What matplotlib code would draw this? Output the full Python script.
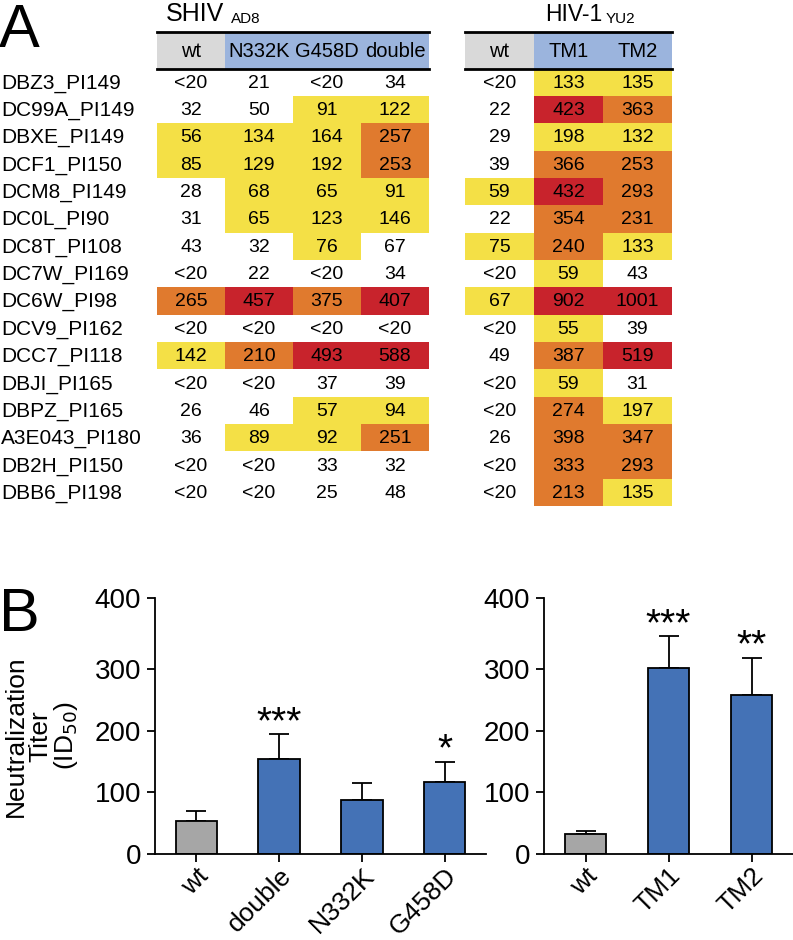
import numpy as np
import matplotlib
matplotlib.use('Agg')
import matplotlib.pyplot as plt
from matplotlib.patches import Rectangle

plt.rcParams['font.family'] = ['Liberation Sans', 'DejaVu Sans']

# Table data (panel A)
samples = ['DBZ3_PI149', 'DC99A_PI149', 'DBXE_PI149', 'DCF1_PI150', 'DCM8_PI149',
           'DC0L_PI90', 'DC8T_PI108', 'DC7W_PI169', 'DC6W_PI98', 'DCV9_PI162',
           'DCC7_PI118', 'DBJI_PI165', 'DBPZ_PI165', 'A3E043_PI180', 'DB2H_PI150',
           'DBB6_PI198']
shiv_cols = ['wt', 'N332K', 'G458D', 'double']
hiv_cols = ['wt', 'TM1', 'TM2']

shiv_vals = [['<20', '21', '<20', '34'], ['32', '50', '91', '122'],
             ['56', '134', '164', '257'], ['85', '129', '192', '253'],
             ['28', '68', '65', '91'], ['31', '65', '123', '146'],
             ['43', '32', '76', '67'], ['<20', '22', '<20', '34'],
             ['265', '457', '375', '407'], ['<20', '<20', '<20', '<20'],
             ['142', '210', '493', '588'], ['<20', '<20', '37', '39'],
             ['26', '46', '57', '94'], ['36', '89', '92', '251'],
             ['<20', '<20', '33', '32'], ['<20', '<20', '25', '48']]
hiv_vals = [['<20', '133', '135'], ['22', '423', '363'], ['29', '198', '132'],
            ['39', '366', '253'], ['59', '432', '293'], ['22', '354', '231'],
            ['75', '240', '133'], ['<20', '59', '43'], ['67', '902', '1001'],
            ['<20', '55', '39'], ['49', '387', '519'], ['<20', '59', '31'],
            ['<20', '274', '197'], ['26', '398', '347'], ['<20', '333', '293'],
            ['<20', '213', '135']]

# shading level: 0 none, 1 yellow, 2 orange, 3 red
shiv_level = [[0, 0, 0, 0], [0, 0, 1, 1], [1, 1, 1, 2], [1, 1, 1, 2], [0, 1, 1, 1],
              [0, 1, 1, 1], [0, 0, 1, 0], [0, 0, 0, 0], [2, 3, 2, 3], [0, 0, 0, 0],
              [1, 2, 3, 3], [0, 0, 0, 0], [0, 0, 1, 1], [0, 1, 1, 2], [0, 0, 0, 0],
              [0, 0, 0, 0]]
hiv_level = [[0, 1, 1], [0, 3, 2], [0, 1, 1], [0, 2, 2], [1, 3, 2], [0, 2, 2],
             [1, 2, 1], [0, 1, 0], [1, 3, 3], [0, 1, 0], [0, 2, 3], [0, 1, 0],
             [0, 2, 1], [0, 2, 2], [0, 2, 2], [0, 2, 1]]

# Bar data (panel B)
shiv_bar_labels = ['wt', 'double', 'N332K', 'G458D']
shiv_means = [54, 154, 87, 117]
shiv_err = [15, 40, 28, 33]
shiv_stars = ['', '***', '', '*']

hiv_bar_labels = ['wt', 'TM1', 'TM2']
hiv_means = [33, 301, 258]
hiv_err = [4, 45, 58]
hiv_stars = ['', '***', '**']

shade = {1: '#f4e046', 2: '#e07a2e', 3: '#c8232c'}
gray_head = '#d9d9d9'
blue_head = '#9bb4dd'
bar_gray = '#a6a6a6'
bar_blue = '#4472b6'

fig = plt.figure(figsize=(7.93, 9.40), dpi=100)

# ---- Panel A: table drawn in pixel space ----
ax_t = fig.add_axes([0, 0, 1, 1])
ax_t.set_xlim(0, 793)
ax_t.set_ylim(940, 0)
ax_t.axis('off')

row_top = 68.5
row_h = 27.35
head_top = 32
fs_val = 14
fs_head = 14.5
fs_row = 15


def draw_table(x0, cw, cols, vals, levels, title, sub, title_x, sub_x, title_fs):
    n = len(cols)
    # header
    for j, c in enumerate(cols):
        ax_t.add_patch(Rectangle((x0 + j * cw, head_top), cw, row_top - head_top,
                                 facecolor=gray_head if j == 0 else blue_head,
                                 edgecolor='none'))
        ax_t.text(x0 + (j + 0.5) * cw, (head_top + row_top) / 2 + 1, c,
                  ha='center', va='center', fontsize=fs_head)
    ax_t.plot([x0, x0 + n * cw], [head_top, head_top], color='black', lw=2)
    ax_t.plot([x0, x0 + n * cw], [row_top, row_top], color='black', lw=2)
    # cells
    for i, row in enumerate(vals):
        y = row_top + i * row_h
        for j, v in enumerate(row):
            lv = levels[i][j]
            if lv:
                ax_t.add_patch(Rectangle((x0 + j * cw, y), cw, row_h,
                                         facecolor=shade[lv], edgecolor='none'))
            ax_t.text(x0 + (j + 0.5) * cw, y + row_h / 2 + 1, v,
                      ha='center', va='center', fontsize=fs_val)
    ax_t.text(title_x, 21, title, ha='left', va='baseline', fontsize=title_fs)
    ax_t.text(sub_x, 23, sub, ha='left', va='baseline', fontsize=11)


for i, s in enumerate(samples):
    ax_t.text(1, row_top + (i + 0.5) * row_h + 1, s, ha='left', va='center',
              fontsize=fs_row)

draw_table(157, 68, shiv_cols, shiv_vals, shiv_level, 'SHIV', 'AD8', 166, 231, 18)
draw_table(465, 69, hiv_cols, hiv_vals, hiv_level, 'HIV-1', 'YU2', 545, 606, 16.5)

ax_t.text(-1, 47, 'A', ha='left', va='baseline', fontsize=44)
ax_t.text(-1, 631, 'B', ha='left', va='baseline', fontsize=44)


# ---- Panel B: bar charts ----
# the reference axis has a longer 300-400 step than the others
k = 71.0 / 61.5


def fwd(y):
    y = np.asarray(y, dtype=float)
    return np.where(y <= 300, y, 300 + (y - 300) * k)


def inv(y):
    y = np.asarray(y, dtype=float)
    return np.where(y <= 300, y, 300 + (y - 300) / k)


def bar_panel(rect, labels, means, errs, stars):
    ax = fig.add_axes(rect)
    x = np.arange(len(labels))
    colors = [bar_gray] + [bar_blue] * (len(labels) - 1)
    ax.errorbar(x, means, yerr=[np.zeros(len(x)), errs], fmt='none', ecolor='black',
                elinewidth=1.3, capsize=7, capthick=1.3, zorder=1)
    ax.bar(x, means, width=0.5, color=colors, edgecolor='black', linewidth=1.3, zorder=2)
    for xi, m, e, s in zip(x, means, errs, stars):
        if s:
            ax.annotate(s, (xi, m + e), xytext=(0, 0.8), textcoords='offset points',
                        ha='center', va='baseline', fontsize=28)
    ax.set_yscale('function', functions=(fwd, inv))
    ax.set_ylim(0, 400)
    ax.set_xlim(-0.5, len(labels) - 0.5)
    ax.set_yticks([0, 100, 200, 300, 400])
    ax.set_yticklabels(['0', '100', '200', '300', '400'])
    ax.minorticks_off()
    ax.set_xticks(x)
    ax.set_xticklabels(labels, rotation=45, ha='right', va='top',
                       rotation_mode='anchor', fontsize=19)
    ax.tick_params(axis='y', labelsize=20)
    ax.tick_params(length=6, width=1.3, direction='out', pad=4)
    ax.tick_params(axis='x', pad=1)
    for sp in ['top', 'right']:
        ax.spines[sp].set_visible(False)
    for sp in ['left', 'bottom']:
        ax.spines[sp].set_linewidth(1.3)
    ax.patch.set_alpha(0)
    return ax


bar_panel([155 / 793, 86 / 940, 331 / 793, 256 / 940],
          shiv_bar_labels, shiv_means, shiv_err, shiv_stars)
bar_panel([544 / 793, 86 / 940, 249 / 793, 256 / 940],
          hiv_bar_labels, hiv_means, hiv_err, hiv_stars)

fig.text(42 / 793, 1 - 736 / 940, 'Neutralization\nTiter\n(ID$_{50}$)', rotation=90,
         ha='center', va='center', multialignment='center', fontsize=19,
         linespacing=1.0)

fig.savefig('out.png', dpi=100)
